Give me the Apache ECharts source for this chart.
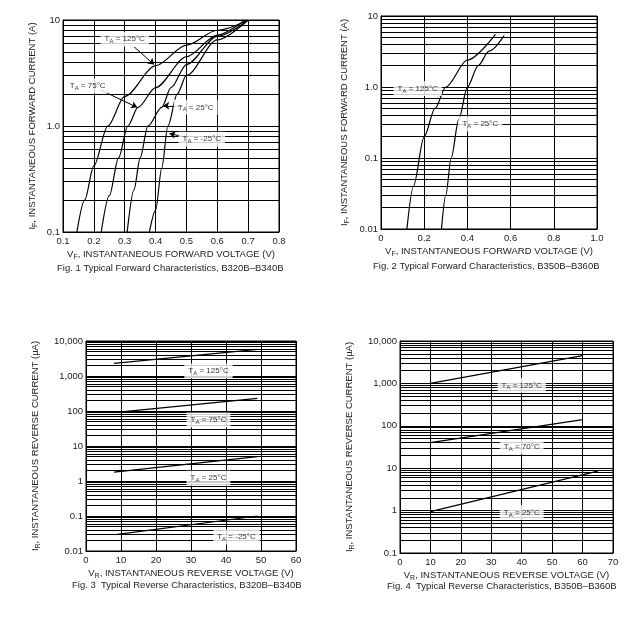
<!DOCTYPE html>
<html style="height: 100%">
<head>
<meta charset="UTF-8">
<title>Diode characteristics</title>
<script src="https://cdn.jsdelivr.net/npm/echarts@6/dist/echarts.min.js"></script>
<style>
  body { margin: 0; background: #fff; }
  #chart { width: 644px; height: 622px; }
</style>
</head>
<body>
<div id="chart"></div>
<script>
// Fig. 1 forward curves, B320B-B340B: [VF (V), IF (A)]
var fig1_125 = [[0.145,0.1],[0.17,0.2],[0.2,0.42],[0.245,1.0],[0.3,1.9],[0.4,3.7],[0.5,5.8],[0.6,8.0],[0.7,10]];
var fig1_75  = [[0.224,0.1],[0.25,0.22],[0.28,0.5],[0.31,1.0],[0.343,1.5],[0.4,2.3],[0.5,4.5],[0.6,7.2],[0.69,10]];
var fig1_25  = [[0.308,0.1],[0.33,0.25],[0.35,0.5],[0.375,1.0],[0.42,1.5],[0.45,2.3],[0.5,3.8],[0.6,7.0],[0.7,10]];
var fig1_m25 = [[0.38,0.1],[0.4,0.16],[0.42,0.4],[0.44,1.0],[0.47,2.0],[0.5,3.0],[0.6,6.5],[0.7,10]];
// Fig. 2 forward curves, B350B-B360B
var fig2_125 = [[0.12,0.01],[0.15,0.04],[0.2,0.2],[0.25,0.5],[0.3,1.0],[0.4,2.4],[0.53,5.5]];
var fig2_25  = [[0.28,0.01],[0.3,0.03],[0.325,0.1],[0.36,0.35],[0.4,1.0],[0.45,2.0],[0.5,3.2],[0.57,5.3]];
// Fig. 3 reverse curves, B320B-B340B: [VR (V), IR (uA)]
var fig3_125 = [[8,2300],[49,5800]];
var fig3_75  = [[8,90],[49,230]];
var fig3_25  = [[8,1.8],[49,5]];
var fig3_m25 = [[9,0.03],[49,0.1]];
// Fig. 4 reverse curves, B350B-B360B
var fig4_125 = [[10,1000],[60,4500]];
var fig4_70  = [[10,40],[60,140]];
var fig4_25  = [[10,0.95],[65,8.5]];

var font = 'Liberation Sans, Arial, sans-serif';

// log grid lines 1..9 per decade
function logLines(lo, hi) {
  var out = [];
  for (var d = lo; d < hi; d *= 10) {
    for (var k = 1; k < 10; k++) out.push({ yAxis: d * k });
  }
  out.push({ yAxis: hi });
  return out;
}

function curve(idx, data, lines) {
  return {
    type: 'line', xAxisIndex: idx, yAxisIndex: idx, data: data,
    smooth: 0.3, smoothMonotone: 'x', symbol: 'none', silent: true,
    lineStyle: { color: '#000', width: 1.2 },
    markLine: lines ? { silent: true, symbol: 'none', label: { show: false },
      lineStyle: { color: '#000', width: 1, type: 'solid' }, data: lines } : undefined,
    z: 5
  };
}

function tag(idx, x, y, t, arrows) {
  return {
    type: 'scatter', xAxisIndex: idx, yAxisIndex: idx, symbolSize: 0, silent: true, z: 10,
    data: [[x, y]],
    label: { show: true, position: 'inside', formatter: '{a|T}{s|A}{a| = ' + t + '}',
      backgroundColor: '#fff', padding: [2, 4],
      rich: { a: { fontSize: 8, fontFamily: font, color: '#000' },
              s: { fontSize: 6, fontFamily: font, color: '#000', verticalAlign: 'bottom', padding: [5, 0, 0, 0] } } },
    markLine: arrows ? { silent: true, symbol: ['none', 'arrow'], symbolSize: 6, label: { show: false },
      lineStyle: { color: '#000', width: 1, type: 'solid' },
      data: arrows.map(function (a) { return [{ coord: a[0] }, { coord: a[1] }]; }) } : undefined
  };
}

var grids = [
  { left: 63, top: 20, width: 216, height: 212 },
  { left: 381, top: 16, width: 216, height: 213 },
  { left: 86, top: 341, width: 210, height: 210 },
  { left: 400, top: 341, width: 213, height: 212 }
];

var xs = [
  { min: 0.1, max: 0.8, interval: 0.1, name: 'F', fmt: function (v) { return v.toFixed(1); }, unit: 'INSTANTANEOUS FORWARD VOLTAGE (V)' },
  { min: 0, max: 1.0, interval: 0.2, name: 'F', fmt: function (v) { return v === 0 ? '0' : v.toFixed(1); }, unit: 'INSTANTANEOUS FORWARD VOLTAGE (V)' },
  { min: 0, max: 60, interval: 10, name: 'R', fmt: String, unit: 'INSTANTANEOUS REVERSE VOLTAGE (V)' },
  { min: 0, max: 70, interval: 10, name: 'R', fmt: String, unit: 'INSTANTANEOUS REVERSE VOLTAGE (V)' }
];
var ys = [
  { min: 0.1, max: 10, labels: { 0.1: '0.1', 1: '1.0', 10: '10' }, name: 'F', unit: 'INSTANTANEOUS FORWARD CURRENT (A)' },
  { min: 0.01, max: 10, labels: { 0.01: '0.01', 0.1: '0.1', 1: '1.0', 10: '10' }, name: 'F', unit: 'INSTANTANEOUS FORWARD CURRENT (A)' },
  { min: 0.01, max: 10000, labels: { 0.01: '0.01', 0.1: '0.1', 1: '1', 10: '10', 100: '100', 1000: '1,000', 10000: '10,000' }, name: 'R', unit: 'INSTANTANEOUS REVERSE CURRENT (\u00b5A)' },
  { min: 0.1, max: 10000, labels: { 0.1: '0.1', 1: '1', 10: '10', 100: '100', 1000: '1,000', 10000: '10,000' }, name: 'R', unit: 'INSTANTANEOUS REVERSE CURRENT (\u00b5A)' }
];

var rich = { a: { fontSize: 9.5, fontFamily: font, color: '#222' },
             s: { fontSize: 7, fontFamily: font, color: '#222', verticalAlign: 'bottom', padding: [6, 0, 0, 0] } };

var option = {
  animation: false,
  grid: grids.map(function (g) { return Object.assign({ show: true, borderColor: '#000', borderWidth: 1 }, g); }),
  xAxis: xs.map(function (a, i) {
    return { type: 'value', gridIndex: i, min: a.min, max: a.max, interval: a.interval,
      name: '{a|V}{s|' + a.name + '}{a|, ' + a.unit + '}', nameLocation: 'middle', nameGap: 16,
      nameTextStyle: { rich: rich },
      axisLine: { lineStyle: { color: '#000' } }, axisTick: { show: false },
      axisLabel: { fontSize: 9.5, fontFamily: font, color: '#222', margin: 4, formatter: a.fmt },
      splitLine: { show: true, lineStyle: { color: '#000', width: 1 } } };
  }),
  yAxis: ys.map(function (a, i) {
    return { type: 'log', logBase: 10, gridIndex: i, min: a.min, max: a.max,
      name: '{a|I}{s|' + a.name + '}{a|, ' + a.unit + '}', nameLocation: 'middle', nameRotate: 90,
      nameGap: i >= 2 ? 44 : (i === 1 ? 30 : 24), nameTextStyle: { rich: rich },
      axisLine: { lineStyle: { color: '#000' } }, axisTick: { show: false },
      axisLabel: { fontSize: 9.5, fontFamily: font, color: '#222', margin: 3,
        formatter: function (v) { var k = +v.toPrecision(3); return a.labels[k] || ''; } },
      splitLine: { show: false } };
  }),
  graphic: [
    { type: 'text', left: 57, top: 263, style: { text: 'Fig. 1 Typical Forward Characteristics, B320B\u2013B340B', font: '9.5px ' + font, fill: '#222' } },
    { type: 'text', left: 373, top: 261, style: { text: 'Fig. 2 Typical Forward Characteristics, B350B\u2013B360B', font: '9.5px ' + font, fill: '#222' } },
    { type: 'text', left: 72, top: 580, style: { text: 'Fig. 3  Typical Reverse Characteristics, B320B\u2013B340B', font: '9.5px ' + font, fill: '#222' } },
    { type: 'text', left: 387, top: 581, style: { text: 'Fig. 4  Typical Reverse Characteristics, B350B\u2013B360B', font: '9.5px ' + font, fill: '#222' } }
  ],
  series: [
    curve(0, fig1_125, logLines(0.1, 10)), curve(0, fig1_75), curve(0, fig1_25), curve(0, fig1_m25),
    curve(1, fig2_125, logLines(0.01, 10)), curve(1, fig2_25),
    curve(2, fig3_125, logLines(0.01, 10000)), curve(2, fig3_75), curve(2, fig3_25), curve(2, fig3_m25),
    curve(3, fig4_125, logLines(0.1, 10000)), curve(3, fig4_70), curve(3, fig4_25),
    tag(0, 0.3, 6.6, '125\u00b0C', [[[0.33, 5.6], [0.395, 3.8]]]),
    tag(0, 0.18, 2.4, '75\u00b0C', [[[0.22, 2.2], [0.34, 1.5]]]),
    tag(0, 0.53, 1.5, '25\u00b0C', [[[0.49, 1.55], [0.425, 1.55]]]),
    tag(0, 0.55, 0.75, '-25\u00b0C', [[[0.5, 0.78], [0.445, 0.85]]]),
    tag(1, 0.17, 0.95, '125\u00b0C'),
    tag(1, 0.46, 0.3, '25\u00b0C'),
    tag(2, 35, 1400, '125\u00b0C'), tag(2, 35, 55, '75\u00b0C'), tag(2, 35, 1.2, '25\u00b0C'), tag(2, 43, 0.025, '-25\u00b0C'),
    tag(3, 40, 900, '125\u00b0C'), tag(3, 40, 32, '70\u00b0C'), tag(3, 40, 0.9, '25\u00b0C')
  ]
};

var chart = echarts.init(document.getElementById('chart'));
chart.setOption(option);
</script>
</body>
</html>
